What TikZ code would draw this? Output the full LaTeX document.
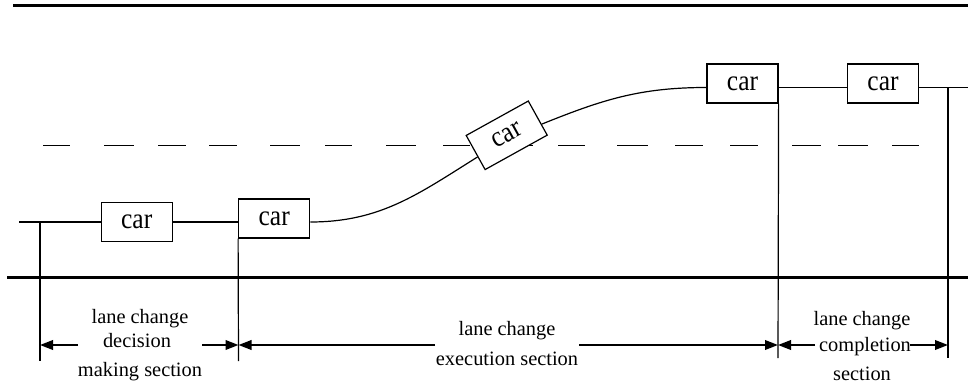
\documentclass[tikz,border=0pt]{standalone}
\usepackage{fontspec}
\setmainfont{Liberation Serif}
\newfontfamily\carfont[FakeStretch=0.88]{Liberation Serif}
\usetikzlibrary{arrows.meta,calc}

\begin{document}
\begin{tikzpicture}[x=0.5pt,y=0.5pt,
  road/.style={line width=1.5pt},
  lane/.style={line width=0.6pt},
  carbox/.style={draw,fill=white,line width=0.6pt,minimum width=35.5pt,
    minimum height=19.5pt,inner sep=0pt,font=\carfont\fontsize{14.5}{14.5}\selectfont},
  sectext/.style={anchor=base,inner sep=0pt,font=\fontsize{10.2}{12}\selectfont},
  dim/.style={line width=0.9pt,-{Triangle[length=6.5pt,width=4.8pt]}}
]
\useasboundingbox (0,0) rectangle (968,386);

% road edges
\coordinate (topL) at (13,380.5);
\coordinate (topR) at (968,380.5);
\coordinate (botL) at (7,109);
\coordinate (botR) at (968,109);
\draw[road] (topL) -- (topR);
\draw[road] (botL) -- (botR);

% lane divider
\foreach \a/\b in {43/70,104/134,158/186,209/237,270/300,325/352,386/416,
  443/470,500/533,558/585,617/648,675/703,730/758,792/821,838/868,892/919}
  \draw[lane] (\a,240.3) -- (\b,240.3);

% vehicles
\node[carbox] (car1) at (136.7,164) {car};
\node[carbox] (car2) at (274.2,167.5) {car};
\node[carbox,rotate=29] (car3) at (506.7,250.7) {car};
\node[carbox] (car4) at (742.5,302.5) {car};
\node[carbox] (car5) at (883,302.5) {car};

% trajectory
\coordinate (startL) at (19,164);
\coordinate (hi) at (0,298.5);
\coordinate (endR) at (968,298.5);
\coordinate (in3) at ($(car3.south west)!0.38!(car3.north west)$);
\coordinate (out3) at ($(car3.south east)!0.32!(car3.north east)$);
\draw[lane] (startL) -- (car1.west);
\draw[lane] (car1.east) -- (car1.east -| car2.west);
\draw[lane] (car1.east -| car2.east) to[out=0,in=212] (in3);
\draw[lane] (out3) to[out=22,in=180] (car4.west |- hi);
\draw[lane] (car4.east |- hi) -- (car5.west |- hi);
\draw[lane] (car5.east |- hi) -- (endR);

% section boundaries
\coordinate (v1b) at (40,25);
\coordinate (v2b) at (238.5,25);
\coordinate (v3b) at (778,28);
\coordinate (v4t) at (948,298.5);
\coordinate (v4b) at (948,28);
\draw[lane] (v1b |- car1.west) -- (v1b);
\draw[lane] (car2.south west) -- (v2b);
\draw[lane] (car4.south east) -- (v3b);
\draw[lane] (v4t) -- (v4b);

% dimension arrows
\coordinate (a1) at (78,41);
\coordinate (a2) at (202,41);
\coordinate (a3) at (435,41);
\coordinate (a4) at (579,41);
\coordinate (a5) at (815,41);
\coordinate (a6) at (910,41);
\draw[dim] (a1) -- (a1 -| v1b);
\draw[dim] (a2) -- (a2 -| v2b);
\draw[dim] (a3) -- (a3 -| v2b);
\draw[dim] (a4) -- (a4 -| v3b);
\draw[dim] (a5) -- (a5 -| v3b);
\draw[dim] (a6) -- (a6 -| v4b);

% section names
\node[sectext] (d1) at (140,63) {lane change};
\node[sectext] (d2) at (137,39) {decision};
\node[sectext] (d3) at (140,10) {making section};
\node[sectext] (e1) at (507,50.3) {lane change};
\node[sectext] (e2) at (507,21) {execution section};
\node[sectext] (c1) at (862,61) {lane change};
\node[sectext] (c2) at (865,34.3) {completion};
\node[sectext] (c3) at (862,6) {section};
\end{tikzpicture}
\end{document}
